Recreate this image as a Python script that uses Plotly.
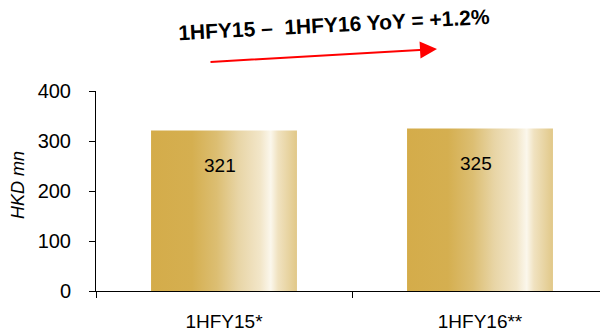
import plotly.graph_objects as go

# Half-year revenue, HKD million
periods = ["1HFY15*", "1HFY16**"]
revenue = [321, 325]
yoy_label = "1HFY15 \u2013\u00a0 1HFY16 YoY = +1.2%"
y_ticks = [0, 100, 200, 300, 400]

BAR_WIDTH = 0.57
FONT = "Liberation Sans, Arial, sans-serif"

gold_scale = [
    [0.00, "#D4AC4A"],
    [0.28, "#D5AF50"],
    [0.45, "#DCBE72"],
    [0.60, "#E8D5A6"],
    [0.75, "#F2E6C9"],
    [0.82, "#FBF7EC"],
    [0.87, "#F0E2C0"],
    [1.00, "#E1C888"],
]

fig = go.Figure()

# Each bar is a filled rectangle so it can carry a horizontal gold gradient
for i, (name, val) in enumerate(zip(periods, revenue)):
    x0, x1 = i - BAR_WIDTH / 2, i + BAR_WIDTH / 2
    fig.add_trace(go.Scatter(
        x=[x0, x1, x1, x0, x0],
        y=[0, 0, val, val, 0],
        mode="lines",
        line=dict(width=0),
        fill="toself",
        fillgradient=dict(type="horizontal", colorscale=gold_scale),
        name=name,
        showlegend=False,
        hoverinfo="skip",
    ))
    fig.add_annotation(
        x=i, y=val, xref="x", yref="y",
        text=str(val), showarrow=False,
        yanchor="top", yshift=-22, xshift=-4,
        font=dict(family=FONT, size=19, color="#000000"),
    )

# Boundary tick marks on a second overlaid axis
fig.add_trace(go.Scatter(x=[0], y=[0], xaxis="x2", mode="markers",
                         marker=dict(opacity=0), showlegend=False,
                         hoverinfo="skip"))

x_range = [-0.5, 1.5 - 8 / 256]

fig.update_layout(
    width=600, height=331,
    margin=dict(l=96, r=0, t=91, b=40),
    paper_bgcolor="white", plot_bgcolor="white",
    font=dict(family=FONT, size=19, color="#000000"),
    xaxis=dict(
        range=x_range, automargin=False,
        tickvals=[0, 1], ticktext=periods,
        ticks="", showgrid=False, zeroline=False,
        showline=True, linecolor="#000000", linewidth=1,
        ticklabelstandoff=13,
        tickfont=dict(family=FONT, size=19, color="#000000"),
    ),
    xaxis2=dict(
        overlaying="x", matches="x", side="bottom",
        range=x_range, automargin=False,
        tickvals=[-0.5, 0.5, 1.5], ticks="outside", ticklen=6,
        tickcolor="#000000", tickwidth=1,
        showticklabels=False, showgrid=False, zeroline=False,
        showline=False,
    ),
    yaxis=dict(
        range=[0, 400], tickvals=y_ticks, automargin=False,
        ticks="outside", ticklen=6, tickcolor="#000000", tickwidth=1,
        showgrid=False, zeroline=False,
        showline=True, linecolor="#000000", linewidth=1,
        ticklabelstandoff=14,
        tickfont=dict(family=FONT, size=20, color="#000000"),
    ),
)

# Axis title placed as free text so it can sit slightly above centre
fig.add_annotation(
    x=-(96 - 18) / 504, y=(291 - 185) / 200, xref="paper", yref="paper",
    text="<i>HKD mn</i>", showarrow=False, textangle=-90,
    xanchor="center", yanchor="middle",
    font=dict(family=FONT, size=18, color="#000000"),
)

# Year-on-year headline, tilted upward
fig.add_annotation(
    x=(334 - 96) / 504, y=(291 - 24) / 200, xref="paper", yref="paper",
    text="<b>" + yoy_label + "</b>", showarrow=False,
    textangle=-3, xanchor="center", yanchor="middle",
    font=dict(family=FONT, size=21, color="#000000"),
)

# Red growth arrow underneath the headline
fig.add_annotation(
    x=(437 - 96) / 504, y=(291 - 49) / 200, xref="paper", yref="paper",
    ax=-228, ay=13, axref="pixel", ayref="pixel",
    text="", showarrow=True,
    arrowhead=2, arrowsize=1.7, arrowwidth=2, arrowcolor="#FF0000",
)

fig.write_html("out.html")
